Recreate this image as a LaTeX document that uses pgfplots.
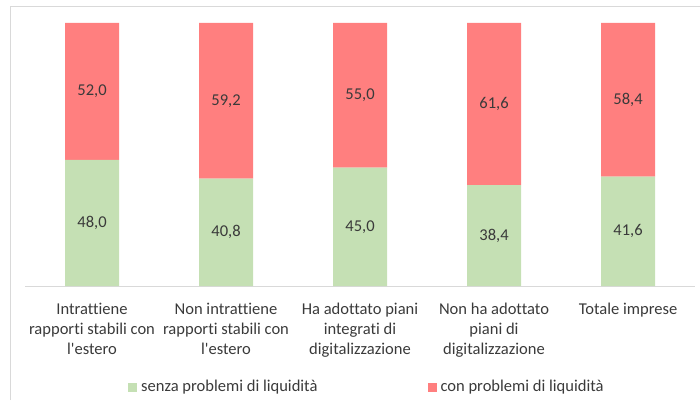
\documentclass[border=0pt]{standalone}
\usepackage{pgfplots}
\pgfplotsset{compat=1.18}
\usepackage{fontspec}
\setmainfont{Carlito}[Ligatures={NoCommon}]
\definecolor{cgreen}{HTML}{C5E0B4}
\definecolor{cred}{HTML}{FF7F7F}
\definecolor{cgrid}{HTML}{D9D9D9}
\definecolor{ctext}{HTML}{3A3A3A}
\newcommand{\lfont}{\fontsize{16.6}{20.3}\selectfont}
\begin{document}
\begin{tikzpicture}[x=1bp,y=1bp]
\useasboundingbox (0,0) rectangle (700,400);
\clip (0,0) rectangle (700,400);
\draw[cgrid, line width=1bp] (10,0) -- (10,393) -- (710,393);
\begin{axis}[
  at={(25bp,114bp)}, anchor=south west,
  scale only axis, width=670bp, height=263bp,
  xmin=-0.5, xmax=4.5, ymin=0, ymax=100,
  ybar stacked, bar width=54bp,
  axis x line*=bottom, axis y line=none,
  x axis line style={cgrid, line width=1bp, -},
  xtick={0,1,2,3,4}, major tick length=0pt,
  xticklabels={{Intrattiene\\rapporti stabili con\\l\textquotesingle estero},{Non intrattiene\\rapporti stabili con\\l\textquotesingle estero},{Ha adottato piani\\integrati di\\digitalizzazione},{Non ha adottato\\piani di\\digitalizzazione},{Totale imprese}},
  xticklabel style={align=center, font=\lfont, text=ctext, anchor=north, inner sep=0pt, yshift=-16.5bp},
  ytick=\empty,
  legend columns=2,
  legend style={at={(axis description cs:0.1537,-0.384)}, anchor=west, draw=none, fill=none, inner sep=0pt, font=\lfont, text=ctext, /tikz/every even column/.append style={column sep=108bp}, /tikz/every odd column/.append style={column sep=2bp}},
  legend image code/.code={\fill[#1] (0bp,-4.5bp) rectangle (9bp,4.5bp);},
]
\addplot[fill=cgreen, draw=none] coordinates {(0,48.0) (1,40.8) (2,45.0) (3,38.4) (4,41.6)};
\addlegendentry{senza problemi di liquidità}
\addplot[fill=cred, draw=none] coordinates {(0,52.0) (1,59.2) (2,55.0) (3,61.6) (4,58.4)};
\addlegendentry{con problemi di liquidità}
\end{axis}
\begin{axis}[
  at={(25bp,114bp)}, anchor=south west,
  scale only axis, width=670bp, height=263bp,
  xmin=-0.5, xmax=4.5, ymin=0, ymax=100,
  hide axis, clip=false,
]
\addplot[draw=none, mark=none, nodes near coords, point meta=explicit symbolic,
  every node near coord/.append style={anchor=center, font=\lfont, text=ctext}]
  table[meta=label] {
x y label
0 24.0 48,0
1 20.4 40,8
2 22.5 45,0
3 19.2 38,4
4 20.8 41,6
0 74.0 52,0
1 70.4 59,2
2 72.5 55,0
3 69.2 61,6
4 70.8 58,4
};
\end{axis}
\end{tikzpicture}
\end{document}
